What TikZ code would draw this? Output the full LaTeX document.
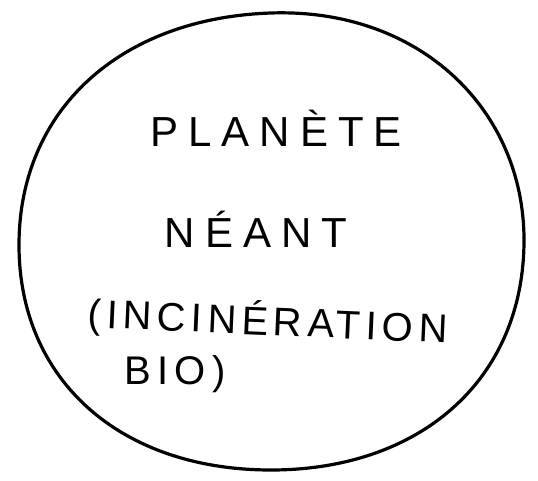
\documentclass[tikz,border=0pt]{standalone}
\usepackage{fontspec}
\setmainfont{Liberation Sans}
\begin{document}
\begin{tikzpicture}[x=1pt,y=-1pt,
  hand/.style={font=\fontsize{42}{46}\selectfont\addfontfeatures{LetterSpace=24}, inner sep=0pt, anchor=center},
  handtight/.style={font=\fontsize{40}{44}\selectfont\addfontfeatures{LetterSpace=13}, inner sep=0pt, anchor=center}]
\useasboundingbox (0,0) rectangle (538,481);
\fill[white] (0,0) rectangle (538,481);
\draw[line width=3.2pt, black]
  (271,13) .. controls (420,8) and (524,110) .. (524,240)
  .. controls (524,380) and (420,470) .. (271,470)
  .. controls (120,470) and (19,380) .. (19,245)
  .. controls (19,110) and (120,18) .. (271,13) -- cycle;
\node[hand] (planete) at (276,128) {PLANÈTE};
\node[hand] (neant) at (256,229) {NÉANT};
\node[handtight, rotate=-2.5] (incin) at (268,322) {(INCINÉRATION};
\node[handtight, font=\fontsize{40}{44}\selectfont\addfontfeatures{LetterSpace=16}] (bio) at (175,374) {BIO)};
\end{tikzpicture}
\end{document}
